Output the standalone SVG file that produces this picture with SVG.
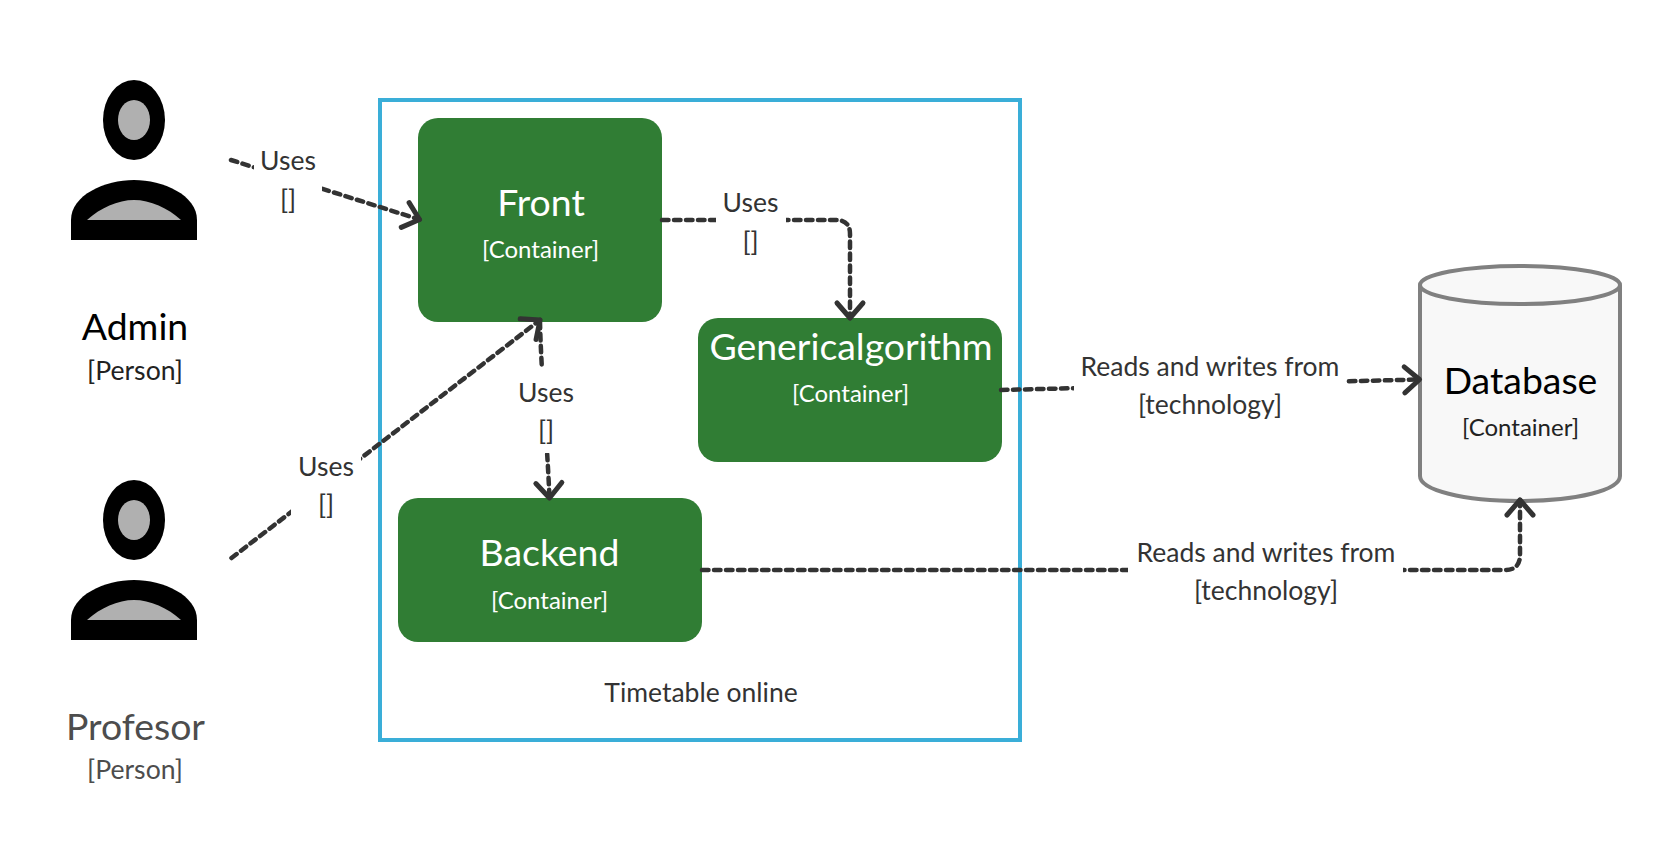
<svg xmlns="http://www.w3.org/2000/svg" width="1660" height="864" viewBox="0 0 1660 864">
<style>
text{font-family:"Lato","Liberation Sans",sans-serif;text-anchor:middle}
.t{font-size:37.4px}
.s{font-size:24px}
.p{font-size:26.600px}
.l{font-size:26.5px;fill:#333}
.w{fill:#fff}
.box{fill:#307d34}
.c{fill:none;stroke:#333;stroke-width:4.500;stroke-dasharray:6.500 5.500;stroke-linecap:round}
.h{fill:none;stroke:#333;stroke-width:5;stroke-linecap:round;stroke-linejoin:round;stroke-dasharray:none}
.g{fill:#fff}
</style>
<defs>
<g id="person"><ellipse cx="134" cy="120" rx="31" ry="40"/><ellipse cx="134" cy="120" rx="16" ry="20" fill="#b0b0b0"/><path d="M71,240V220C71,195 105,180 134,180C163,180 197,195 197,220V240Z"/><path d="M87,220C100,208 118,200 134,200C150,200 168,208 181,220Z" fill="#b0b0b0"/></g>
<marker id="a" markerUnits="userSpaceOnUse" markerWidth="40" markerHeight="40" refX="20" refY="20" orient="auto" viewBox="0 0 40 40"><path class="h" d="M5,7L20,20L5,33"/></marker>
</defs>
<g id="admin"><use href="#person"/><text class="t" x="135" y="340">Admin</text><text class="p" x="135" y="380" fill="#222">[Person]</text></g>
<g id="profesor"><use href="#person" y="400"/><text class="t" x="135.500" y="740" fill="#4d4d4d">Profesor</text><text class="p" x="135" y="779" fill="#4d4d4d">[Person]</text></g>
<g id="system"><rect x="380" y="100" width="640" height="640" fill="none" stroke="#3aaed8" stroke-width="4"/><text class="l" x="701" y="702">Timetable online</text></g>
<g id="front"><rect class="box" x="418" y="118" width="244" height="204" rx="20"/><text class="t w" x="541" y="215.500">Front</text><text class="s w" x="540.500" y="258">[Container]</text></g>
<g id="genericalgorithm"><rect class="box" x="698" y="318" width="304" height="144" rx="20"/><text class="t w" x="851" y="360">Genericalgorithm</text><text class="s w" x="850.500" y="402">[Container]</text></g>
<g id="backend"><rect class="box" x="398" y="498" width="304" height="144" rx="20"/><text class="t w" x="549.500" y="566">Backend</text><text class="s w" x="549.500" y="608.500">[Container]</text></g>
<g id="database"><path d="M1420,285V476C1420,490 1463,501 1520,501C1577,501 1620,490 1620,476V285" fill="#f8f8f8" stroke="#808080" stroke-width="4"/><ellipse cx="1520" cy="285" rx="100" ry="19" fill="#f8f8f8" stroke="#808080" stroke-width="4"/><text class="t" x="1520.500" y="394">Database</text><text class="s" x="1520.500" y="436" fill="#222">[Container]</text></g>
<g id="connectors">
<path class="c" d="M231,160L419.500,219.500" marker-end="url(#a)"/>
<path class="c" d="M231.500,558L540,320" marker-end="url(#a)"/>
<path class="c" d="M662,220H836Q850,220 850,234V318" marker-end="url(#a)"/>
<path class="c" d="M540,322C541,370 547,440 549.500,498" marker-end="url(#a)"/>
<path class="c" d="M1001,390L1419.500,379.500" marker-end="url(#a)"/>
<path class="c" d="M702,570H1505Q1520,570 1520,555V500" marker-end="url(#a)"/>
</g>
<g id="labels">
<rect class="g" x="254" y="142" width="68" height="76"/>
<text class="l" x="288" y="170">Uses</text><text class="l" x="288" y="208.500">[]</text>
<rect class="g" x="291" y="450" width="70" height="76"/>
<text class="l" x="326" y="476">Uses</text><text class="l" x="326" y="514">[]</text>
<rect class="g" x="716" y="188" width="70" height="76"/>
<text class="l" x="750.500" y="212">Uses</text><text class="l" x="750.500" y="250.500">[]</text>
<rect class="g" x="516" y="367" width="60" height="86"/>
<text class="l" x="546" y="402">Uses</text><text class="l" x="546" y="440">[]</text>
<rect class="g" x="1074" y="345" width="272" height="90"/>
<text class="l" x="1210" y="376">Reads and writes from</text><text class="l" x="1210" y="414">[technology]</text>
<rect class="g" x="1128" y="530" width="275" height="90"/>
<text class="l" x="1266" y="562">Reads and writes from</text><text class="l" x="1266" y="600">[technology]</text>
</g>
</svg>
